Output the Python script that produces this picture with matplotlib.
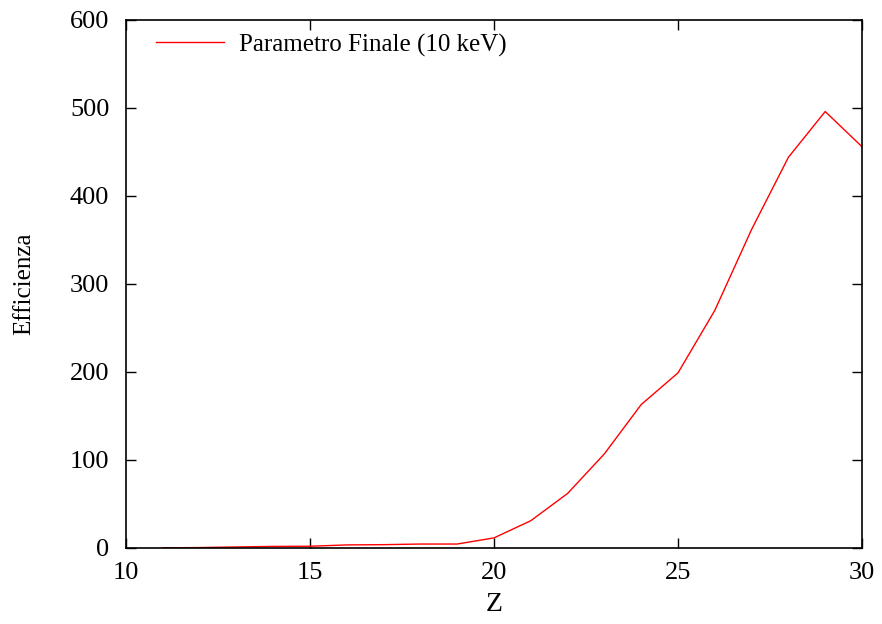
import numpy as np
import matplotlib
matplotlib.use("Agg")
import matplotlib.pyplot as plt

plt.rcParams['font.family'] = ['Liberation Serif', 'DejaVu Serif']

# efficienza vs Z
Z = [11, 12, 13, 14, 15, 16, 17, 18, 19, 20,
     21, 22, 23, 24, 25, 26, 27, 28, 29, 30]
eff = [0.2, 0.5, 1.2, 1.8, 2.0, 3.5, 3.8, 4.5, 4.5, 11.5,
       31, 62, 107, 163, 199, 270, 362, 444, 496, 456]

fig = plt.figure(figsize=(8.82, 6.24), dpi=100)
ax = fig.add_axes([126/882, 1 - 548/624, 736/882, 528/624])

ax.plot(Z, eff, color='red', lw=1.0, label='Parametro Finale (10 keV)')

ax.set_xlim(10, 30)
ax.set_ylim(0, 600)
ax.set_xticks([10, 15, 20, 25, 30])
ax.set_yticks([0, 100, 200, 300, 400, 500, 600])
ax.tick_params(direction='in', top=True, right=True, length=7, width=1,
               labelsize=19)
ax.tick_params(axis='x', pad=10)
ax.tick_params(axis='y', pad=12)
for s in ax.spines.values():
    s.set_linewidth(1.2)

ax.set_xlabel('Z', fontsize=20, labelpad=6)
ax.set_ylabel('Efficienza', fontsize=18, labelpad=25)

ax.legend(loc='upper left', frameon=False, fontsize=18, handlelength=2.72,
          handletextpad=0.6, borderaxespad=0.1, bbox_to_anchor=(0.024, 0.998))

fig.savefig('out.png', dpi=100)
